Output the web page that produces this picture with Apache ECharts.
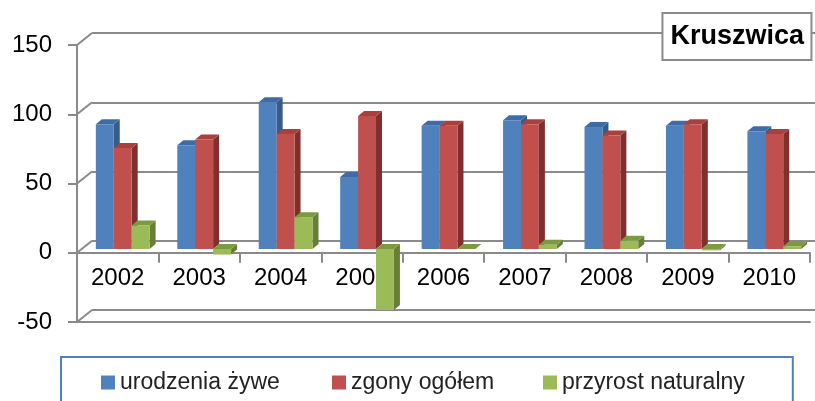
<!DOCTYPE html>
<html><head><meta charset="utf-8">
<script src="https://cdn.jsdelivr.net/npm/echarts@6/dist/echarts.min.js"></script>
<style>html,body{margin:0;padding:0;background:#fff}#c{width:815px;height:401px}</style>
</head><body><div id="c"></div>
<script>
const categories = ['2002','2003','2004','2005','2006','2007','2008','2009','2010'];
const seriesNames = ['urodzenia żywe','zgony ogółem','przyrost naturalny'];
const births = [90, 75, 106, 52, 89, 93, 88, 89, 85];
const deaths = [73, 79, 83, 96, 89, 90, 82, 90, 83];
const growth = [17, -4, 23, -44, 0, 3, 6, -1, 2];
const yTickValues = [-50, 0, 50, 100, 150];
const titleText = 'Kruszwica';

const FONT = "'Liberation Sans', Arial, sans-serif";
const GRID_C = '#8a8a8a';
const palettes = [
  {front:'#4F81BD', top:'#3F6CA6', side:'#375C8A'},
  {front:'#C0504D', top:'#A8413E', side:'#7E302E'},
  {front:'#9BBB59', top:'#7C9A40', side:'#677F34'}
];
const DX = 6, DY = 5;

function barRenderer(k){
  return function(params, api){
    const i = api.value(0), v = api.value(1);
    const cw = api.size([1,0])[0];
    const bw = cw * 0.22;
    const pv = api.coord([i, v]);
    const p0 = api.coord([i, 0]);
    const x0 = pv[0] - bw*1.5 + bw*k;
    const x1 = x0 + bw;
    const yt = Math.min(pv[1], p0[1]);
    const yb = Math.max(pv[1], p0[1]);
    const pal = palettes[k];
    return {type:'group', children:[
      {type:'polygon', shape:{points:[[x1,yt],[x1+DX,yt-DY],[x1+DX,yb-DY],[x1,yb]]}, style:{fill:pal.side}},
      {type:'polygon', shape:{points:[[x0,yt],[x0+DX,yt-DY],[x1+DX,yt-DY],[x1,yt]]}, style:{fill:pal.top}},
      {type:'rect', shape:{x:x0, y:yt, width:bw, height:yb-yt}, style:{fill:pal.front}}
    ]};
  };
}

const valueSets = [births, deaths, growth];
const barSeries = valueSets.map((vals, k) => ({
  name: seriesNames[k],
  type: 'custom',
  xAxisIndex: 2, yAxisIndex: 2,
  itemStyle: {color: palettes[k].front},
  renderItem: barRenderer(k),
  data: vals.map((v, i) => [i, v]),
  z: 5
}));

const legendText = {fontFamily: FONT, fontSize: 23, color: '#222'};
const legendCommon = {top: 357, itemWidth: 14, itemHeight: 14, icon: 'rect', textStyle: legendText};

const chart = echarts.init(document.getElementById('c'), null, {renderer:'canvas'});
chart.setOption({
  animation: false,
  backgroundColor: '#fff',
  title: {
    text: titleText, right: 3, top: 13,
    padding: [10, 8, 10, 8],
    borderColor: GRID_C, borderWidth: 2, backgroundColor: '#fff',
    textStyle: {fontFamily: FONT, fontWeight: 'bold', fontSize: 27, color: '#000'},
    z: 10
  },
  legend: [
    Object.assign({}, legendCommon, {left: 61, padding: [14, 513, 40, 40],
      borderColor: '#4F81BD', borderWidth: 2, data: [seriesNames[0]]}),
    Object.assign({}, legendCommon, {left: 332, padding: [14, 0, 0, 0], data: [seriesNames[1]]}),
    Object.assign({}, legendCommon, {left: 543, padding: [14, 0, 0, 0], data: [seriesNames[2]]})
  ],
  grid: [
    {left: 92, right: 0, top: 33, bottom: 91, outerBoundsMode: 'none'},
    {left: 77, right: 5, top: 45, bottom: 79, outerBoundsMode: 'none'},
    {left: 82, right: 0, top: 41.25, bottom: 82.75, outerBoundsMode: 'none'},
    {left: 77, right: 5, top: 45, bottom: 148.25, outerBoundsMode: 'none'}
  ],
  xAxis: [
    {gridIndex: 0, type: 'category', data: categories, axisLine:{show:false}, axisTick:{show:false}, axisLabel:{show:false}},
    {gridIndex: 1, type: 'category', data: categories, position: 'bottom',
      axisLine: {onZero: false, lineStyle: {color: GRID_C, width: 2}},
      axisTick: {show: false}, axisLabel: {show: false}},
    {gridIndex: 2, type: 'category', data: categories, show: false},
    {gridIndex: 3, type: 'category', data: categories, position: 'bottom',
      axisLine: {onZero: false, lineStyle: {color: GRID_C, width: 2}},
      axisTick: {show: true, length: 10, lineStyle: {color: GRID_C, width: 2}},
      axisLabel: {margin: 14, fontFamily: FONT, fontSize: 24, color: '#000'}}
  ],
  yAxis: [
    {gridIndex: 0, type: 'value', min: -50, max: 150, interval: 50,
      axisLine: {show: false}, axisTick: {show: false}, axisLabel: {show: false},
      splitLine: {show: true, lineStyle: {color: GRID_C, width: 2}}},
    {gridIndex: 1, type: 'value', min: -50, max: 150, interval: 50,
      axisLine: {show: true, lineStyle: {color: GRID_C, width: 2}},
      axisTick: {show: true, length: 9, lineStyle: {color: GRID_C, width: 2}},
      axisLabel: {margin: 25, fontFamily: FONT, fontSize: 24, color: '#000'},
      splitLine: {show: false}},
    {gridIndex: 2, type: 'value', min: -50, max: 150, interval: 50, show: false},
    {gridIndex: 3, type: 'value', min: 0, max: 150, interval: 50, show: false}
  ],
  series: [
    {
      type: 'custom', xAxisIndex: 1, yAxisIndex: 1, silent: true, z: 1,
      data: yTickValues.map(v => [0, v]),
      renderItem: function(params, api){
        const y = api.coord([0, api.value(1)])[1];
        const x = params.coordSys.x;
        return {type:'line', shape:{x1:x, y1:y, x2:x+15, y2:y-12}, style:{stroke:GRID_C, lineWidth:2}};
      }
    }
  ].concat(barSeries)
});
</script>
</body></html>
